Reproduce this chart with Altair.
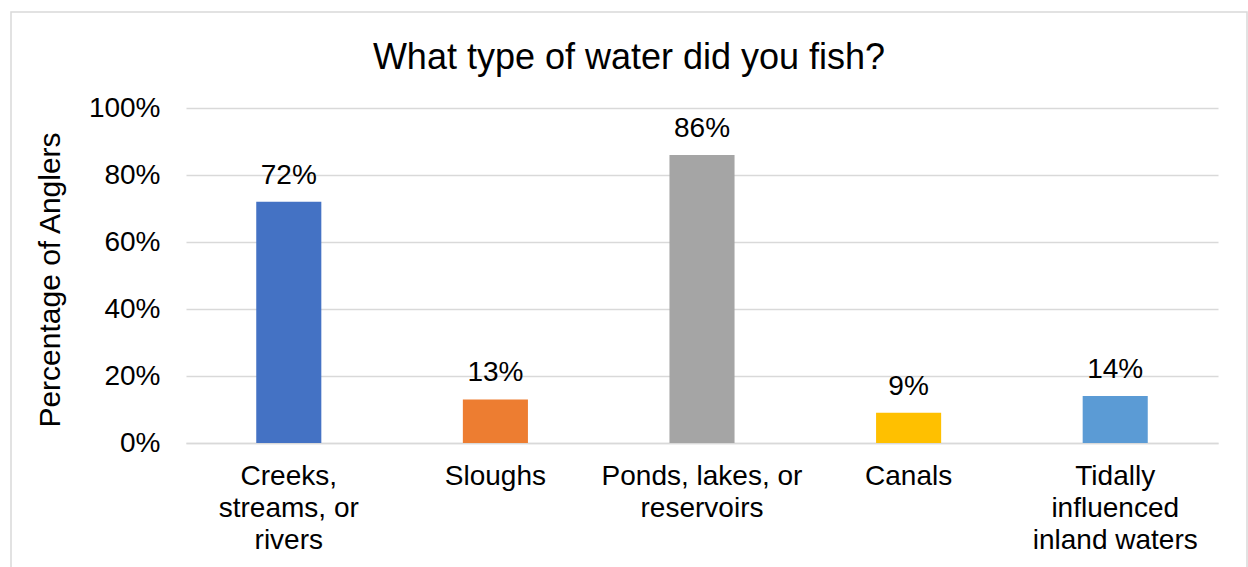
import altair as alt
import pandas as pd

categories = [
    "Creeks, streams, or rivers",
    "Sloughs",
    "Ponds, lakes, or reservoirs",
    "Canals",
    "Tidally influenced inland waters",
]
label_lines = [
    "Creeks,|streams, or|rivers",
    "Sloughs",
    "Ponds, lakes, or|reservoirs",
    "Canals",
    "Tidally|influenced|inland waters",
]
values = [0.72, 0.13, 0.86, 0.09, 0.14]
colors = ["#4472C4", "#ED7D31", "#A5A5A5", "#FFC000", "#5B9BD5"]
y_ticks = [0, 0.2, 0.4, 0.6, 0.8, 1.0]

df = pd.DataFrame({"cat": label_lines, "value": values, "color": colors})

FONT = "Liberation Sans"
W, H = 1032, 335

x_enc = alt.X(
    "cat:N",
    sort=label_lines,
    scale=alt.Scale(paddingInner=0.685, paddingOuter=0.34),
    axis=alt.Axis(
        title=None,
        labelExpr="split(datum.label, '|')",
        labelFont=FONT,
        labelFontSize=28,
        labelColor="#000000",
        labelAngle=0,
        labelLineHeight=32,
        labelPadding=19,
        labelLimit=400,
        ticks=False,
        grid=False,
        domainColor="#D9D9D9",
        domainWidth=1.5,
        labelBaseline="top",
    ),
)
y_enc = alt.Y(
    "value:Q",
    scale=alt.Scale(domain=[0, 1]),
    axis=alt.Axis(
        title="Percentage of Anglers",
        values=y_ticks,
        format=".0%",
        labelFont=FONT,
        labelFontSize=28,
        labelColor="#000000",
        labelPadding=26,
        ticks=False,
        domain=False,
        gridColor="#D9D9D9",
        gridWidth=1.5,
        titleFont=FONT,
        titleFontSize=30,
        titleFontWeight="normal",
        titleColor="#000000",
        titleX=-136,
        titleY=H / 2 + 4,
        titleAngle=270,
        titleAlign="center",
        titleBaseline="middle",
    ),
)

bars = alt.Chart(df).mark_bar().encode(
    x=x_enc,
    y=y_enc,
    color=alt.Color("color:N", scale=None),
)
labels = alt.Chart(df).mark_text(
    font=FONT, fontSize=28, color="#000000", baseline="alphabetic", dy=-18
).encode(
    x=alt.X("cat:N", sort=label_lines),
    y="value:Q",
    text=alt.Text("value:Q", format=".0%"),
)
border = alt.Chart(pd.DataFrame({"a": [0]})).mark_rect(
    fill="transparent", fillOpacity=0, stroke="#D9D9D9", strokeWidth=1.5
).encode(
    x=alt.value(-175), x2=alt.value(1061), y=alt.value(-96), y2=alt.value(480)
)

chart = alt.layer(border, bars, labels).properties(
    width=W,
    height=H,
    autosize=alt.AutoSizeParams(type="none"),
    padding={"left": 186, "top": 108, "right": 30, "bottom": 124},
    view=alt.ViewBackground(strokeOpacity=0, strokeWidth=0, stroke="transparent"),
    title=alt.TitleParams(
        "What type of water did you fish?",
        font=FONT,
        fontSize=36,
        fontWeight="normal",
        color="#000000",
        anchor="middle",
        baseline="alphabetic",
        dx=-73,
        dy=94,
        offset=0,
    ),
).configure(
    background="#FFFFFF",
    view=alt.ViewConfig(stroke="transparent", strokeWidth=0, strokeOpacity=0),
)

chart.save("out.html", embed_options={"renderer": "svg", "actions": False})
